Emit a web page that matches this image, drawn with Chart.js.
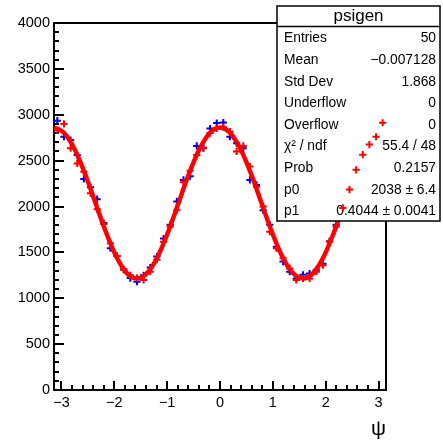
<!DOCTYPE html>
<html>
<head>
<meta charset="utf-8">
<script src="https://cdn.jsdelivr.net/npm/chart.js@4.4.1/dist/chart.umd.min.js"></script>
<style>
  html, body { margin: 0; padding: 0; background: #fff; }
</style>
</head>
<body>
<canvas id="psiChart" width="443" height="442"></canvas>
<script>
// binning of the histogram: 50 bins from -pi to pi
const nBins = 50;
const xMin = -Math.PI;
const xMax = Math.PI;

// histogram contents (blue), one per bin
const dataCounts = [
    2935, 2760, 2725, 2560, 2300, 2210, 2080, 1820, 1545, 1460,
    1315, 1220, 1180, 1250, 1335, 1455, 1650, 1800, 2055, 2290,
    2330, 2660, 2640, 2850, 2910, 2915, 2760, 2690, 2635, 2290,
    2235, 1960, 1800, 1560, 1400, 1290, 1215, 1255, 1270, 1310,
    1375, 1620, 1800, 1990, 2200, 2380, 2580, 2690, 2820, 2870
];

// second histogram (red crosses), one per bin
const toyCounts = [
    2830, 2900, 2635, 2470, 2380, 2145, 1970, 1810, 1600, 1460,
    1310, 1250, 1220, 1200, 1290, 1420, 1615, 1780, 1960, 2265,
    2390, 2560, 2635, 2800, 2850, 2865, 2815, 2600, 2660, 2435,
    2215, 2000, 1725, 1545, 1435, 1325, 1200, 1215, 1215, 1290,
    1360, 1615, 1780, 1985, 2185, 2400, 2565, 2675, 2760, 2913
];

// fitted curve, read at a few psi values
const fitX = [
    -3.1416, -2.9452, -2.7489, -2.5525, -2.3562, -2.1598, -1.9635, -1.7671,
    -1.5708, -1.3744, -1.1781, -0.9817, -0.7854, -0.5890, -0.3927, -0.1963,
    0,
    0.1963, 0.3927, 0.5890, 0.7854, 0.9817, 1.1781, 1.3744, 1.5708,
    1.7671, 1.9635, 2.1598, 2.3562, 2.5525, 2.7489, 2.9452, 3.1416
];
const fitY = [
    2862, 2799, 2621, 2354, 2038, 1722, 1455, 1277,
    1214, 1277, 1455, 1722, 2038, 2354, 2621, 2799,
    2862,
    2799, 2621, 2354, 2038, 1722, 1455, 1277, 1214,
    1277, 1455, 1722, 2038, 2354, 2621, 2799, 2862
];

const xTickValues = [-3, -2, -1, 0, 1, 2, 3];
const yTickValues = [0, 500, 1000, 1500, 2000, 2500, 3000, 3500, 4000];

const statsTitle = "psigen";
const statsLabels = ["Entries", "Mean", "Std Dev", "Underflow", "Overflow", "\u03c7\u00b2 / ndf", "Prob", "p0", "p1"];
const statsValues = ["50", "\u22120.007128", "1.868", "0", "0", "55.4 / 48", "0.2157", "2038 \u00b1 6.4", "0.4044 \u00b1 0.0041"];

const FONT = "'Liberation Sans', Arial, Helvetica, sans-serif";

let binWidth = (xMax - xMin) / nBins;
let binCenters = [];
for (let i = 0; i < nBins; i++) binCenters.push(xMin + (i + 0.5) * binWidth);

function toPoints(xs, ys) {
    return xs.map((x, i) => ({ x: x, y: ys[i] }));
}

/**
 * Frame around the pad and inward tick marks (ROOT style)
 */
const framePlugin = {
    id: "frame",
    beforeDatasetsDraw(chart) {
        const ctx = chart.ctx;
        const a = chart.chartArea;
        const xs = chart.scales.x, ys = chart.scales.y;
        ctx.save();
        ctx.strokeStyle = "#000";
        ctx.lineWidth = 2;
        ctx.strokeRect(a.left, a.top, a.right - a.left, a.bottom - a.top);

        ctx.beginPath();
        // y ticks, every 100, major every 500
        for (let v = 0; v <= 4000; v += 100) {
            let py = Math.round(ys.getPixelForValue(v));
            let len = (v % 500 === 0) ? 10 : 5;
            ctx.moveTo(a.left, py);
            ctx.lineTo(a.left + len, py);
        }
        // x ticks, every 0.2, major every 1
        for (let k = -15; k <= 15; k++) {
            let v = k / 5;
            let px = Math.round(xs.getPixelForValue(v));
            let len = (k % 5 === 0) ? 9 : 5;
            ctx.moveTo(px, a.bottom);
            ctx.lineTo(px, a.bottom - len);
        }
        ctx.stroke();
        ctx.restore();
    }
};

/**
 * Statistics box, drawn after the fit curve and before the red crosses
 */
const statsPlugin = {
    id: "statsBox",
    afterDatasetDraw(chart, args) {
        if (args.index !== 1) return;
        const ctx = chart.ctx;
        const left = 277, top = 6, right = 440, bottom = 221, sep = 26.5;
        const rowH = (bottom - sep) / statsLabels.length;
        ctx.save();
        ctx.fillStyle = "#fff";
        ctx.fillRect(left, top, right - left, bottom - top);
        ctx.strokeStyle = "#000";
        ctx.lineWidth = 1.5;
        ctx.strokeRect(left, top, right - left, bottom - top);
        ctx.beginPath();
        ctx.moveTo(left, sep);
        ctx.lineTo(right, sep);
        ctx.stroke();

        ctx.fillStyle = "#000";
        ctx.textBaseline = "alphabetic";
        ctx.font = "17px " + FONT;
        ctx.textAlign = "center";
        ctx.fillText(statsTitle, (left + right) / 2, 21);

        ctx.font = "13.8px " + FONT;
        for (let i = 0; i < statsLabels.length; i++) {
            let y = sep + rowH * (i + 0.5) + 5;
            ctx.textAlign = "left";
            ctx.fillText(statsLabels[i], left + 7, y);
            ctx.textAlign = "right";
            ctx.fillText(statsValues[i], right - 4, y);
        }
        ctx.restore();
    }
};

function renderChart() {
    let ctx = document.getElementById("psiChart").getContext("2d");
    new Chart(ctx, {
        type: "scatter",
        data: {
            datasets: [{
                label: "data",
                data: toPoints(binCenters, dataCounts),
                pointStyle: "cross",
                pointRadius: 3.6,
                borderColor: "#0000e0",
                backgroundColor: "#0000e0",
                borderWidth: 2,
                clip: false,
                order: 3
            }, {
                type: "line",
                label: "fit",
                data: toPoints(fitX, fitY),
                borderColor: "#ff0000",
                borderWidth: 4.5,
                pointRadius: 0,
                fill: false,
                cubicInterpolationMode: "monotone",
                order: 2
            }, {
                label: "toy",
                data: toPoints(binCenters, toyCounts),
                pointStyle: "cross",
                pointRadius: 3.6,
                borderColor: "#ff0000",
                backgroundColor: "#ff0000",
                borderWidth: 2,
                clip: false,
                order: 1
            }]
        },
        options: {
            responsive: false,
            animation: false,
            events: [],
            layout: { padding: { top: 23, right: 57, left: 0, bottom: 0 } },
            plugins: {
                legend: { display: false },
                tooltip: { enabled: false }
            },
            scales: {
                x: {
                    type: "linear",
                    min: xMin,
                    max: xMax,
                    grid: { display: false, drawTicks: false },
                    border: { display: false },
                    afterBuildTicks: scale => { scale.ticks = xTickValues.map(v => ({ value: v })); },
                    afterFit: scale => { scale.height = 52; },
                    ticks: {
                        color: "#000",
                        padding: 4,
                        maxRotation: 0,
                        font: { family: FONT, size: 14.5 },
                        callback: v => String(v).replace("-", "\u2212")
                    },
                    title: {
                        display: true,
                        text: "\u03c8",
                        align: "end",
                        color: "#000",
                        padding: { top: 0, bottom: 0 },
                        font: { family: FONT, size: 21 }
                    }
                },
                y: {
                    min: 0,
                    max: 4000,
                    grid: { display: false, drawTicks: false },
                    border: { display: false },
                    afterBuildTicks: scale => { scale.ticks = yTickValues.map(v => ({ value: v })); },
                    afterFit: scale => { scale.width = 54; },
                    ticks: {
                        color: "#000",
                        padding: 4,
                        font: { family: FONT, size: 14.5 },
                        callback: v => String(v)
                    }
                }
            }
        },
        plugins: [framePlugin, statsPlugin]
    });
}

document.addEventListener("DOMContentLoaded", renderChart);
</script>
</body>
</html>
